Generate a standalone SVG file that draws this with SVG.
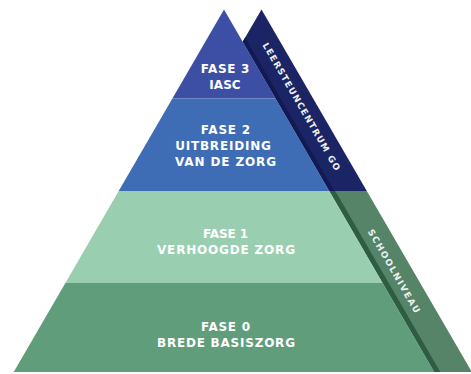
<svg xmlns="http://www.w3.org/2000/svg" width="471" height="374" viewBox="0 0 471 374">
  <style>
    .lbl { font-family: "DejaVu Sans", "Liberation Sans", sans-serif; font-weight: 700; font-size: 12px; fill: #ffffff; text-anchor: middle; }
    .side { font-family: "DejaVu Sans", "Liberation Sans", sans-serif; font-weight: 700; font-size: 8.8px; fill: #eef2f4; text-anchor: middle; }
  </style>
  <rect width="471" height="374" fill="#ffffff"/>
  <g id="band-leersteuncentrum">
    <polygon points="261.5,9.5 242.7,41.8 329.3,191 366.8,191 " fill="#1b2566"/>
    <polygon points="242.7,41.8 329.3,191 334.3,191 245.2,37.5" fill="#111a52"/>
    <text class="side" transform="translate(301.5,106.5) rotate(60)" x="0" y="3.2" textLength="146" lengthAdjust="spacing">LEERSTEUNCENTRUM GO</text>
  </g>
  <g id="band-schoolniveau">
    <polygon points="329.3,191 434.3,372 471.8,372 366.8,191" fill="#558468"/>
    <polygon points="329.3,191 434.3,372 440.3,372 335.3,191" fill="#2f5d43"/>
    <text class="side" transform="translate(394,271) rotate(60)" x="0" y="3.2" textLength="95" lengthAdjust="spacing">SCHOOLNIVEAU</text>
  </g>
  <g id="fase3">
    <polygon points="224,9.5 275.6,98.5 172.4,98.5" fill="#3d4fa5"/>
    <text class="lbl" x="225" y="72.8" textLength="48.7" lengthAdjust="spacing">FASE 3</text>
    <text class="lbl" x="225" y="89.3" textLength="31.3" lengthAdjust="spacing">IASC</text>
  </g>
  <g id="fase2">
    <polygon points="172.4,98.5 275.6,98.5 329.3,191 118.7,191" fill="#3e6db6"/>
    <text class="lbl" x="225.4" y="134.3" textLength="49.3" lengthAdjust="spacing">FASE 2</text>
    <text class="lbl" x="223" y="150.3" textLength="95.7" lengthAdjust="spacing">UITBREIDING</text>
    <text class="lbl" x="225.5" y="165.6" textLength="101" lengthAdjust="spacing">VAN DE ZORG</text>
  </g>
  <g id="fase1">
    <polygon points="118.7,191 329.3,191 382.6,283 65.4,283" fill="#99cfb0"/>
    <text class="lbl" x="225.5" y="238" textLength="45" lengthAdjust="spacing">FASE 1</text>
    <text class="lbl" x="226" y="254.3" textLength="138" lengthAdjust="spacing">VERHOOGDE ZORG</text>
  </g>
  <g id="fase0">
    <polygon points="65.4,283 382.6,283 434.3,372 13.7,372" fill="#5f9d7b"/>
    <text class="lbl" x="225.5" y="331" textLength="49" lengthAdjust="spacing">FASE 0</text>
    <text class="lbl" x="226" y="347" textLength="138" lengthAdjust="spacing">BREDE BASISZORG</text>
  </g>
</svg>
